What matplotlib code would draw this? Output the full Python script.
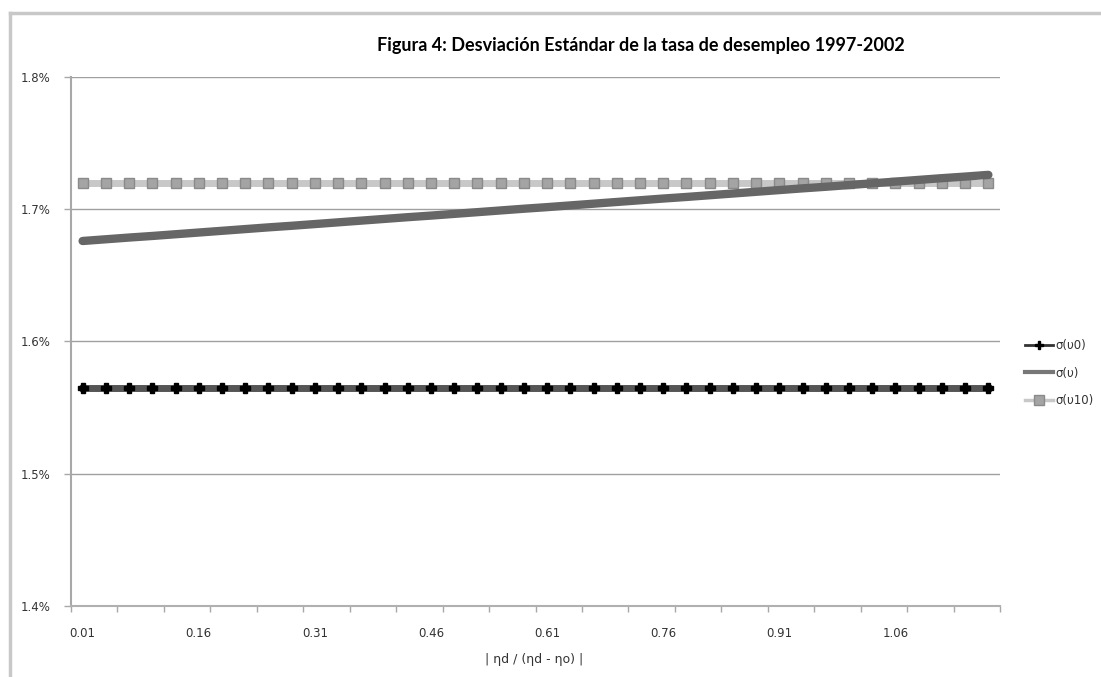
import matplotlib.pyplot as plt
from matplotlib.lines import Line2D
from matplotlib.ticker import FixedLocator, FuncFormatter

# categories on the x axis: |nd / (nd - no)|
x_labels = ['0.01', '0.04', '0.07', '0.10', '0.13', '0.16', '0.19', '0.22', '0.25', '0.28',
            '0.31', '0.34', '0.37', '0.40', '0.43', '0.46', '0.49', '0.52', '0.55', '0.58',
            '0.61', '0.64', '0.67', '0.70', '0.73', '0.76', '0.79', '0.82', '0.85', '0.88',
            '0.91', '0.94', '0.97', '1.00', '1.03', '1.06', '1.09', '1.12', '1.15', '1.18']

# series values in percent
sigma_u0 = [1.565] * 40
sigma_u = [1.6760, 1.6773, 1.6786, 1.6798, 1.6811, 1.6824, 1.6837, 1.6850, 1.6863, 1.6875,
           1.6888, 1.6901, 1.6914, 1.6927, 1.6940, 1.6952, 1.6965, 1.6978, 1.6991, 1.7004,
           1.7016, 1.7029, 1.7042, 1.7055, 1.7068, 1.7081, 1.7093, 1.7106, 1.7119, 1.7132,
           1.7145, 1.7158, 1.7170, 1.7183, 1.7196, 1.7209, 1.7222, 1.7235, 1.7247, 1.7260]
sigma_u10 = [1.720] * 40

title = 'Figura 4: Desviación Estándar de la tasa de desempleo 1997-2002'
xlabel = '| ηd / (ηd - ηo) |'

W, H = 1101, 677
fig = plt.figure(figsize=(W / 100, H / 100), dpi=100)

# outer chart frame (top and left edges visible)
fig.add_artist(Line2D([10 / W, 10 / W], [0, 1 - 13 / H], transform=fig.transFigure,
                      color='#c8c8c8', lw=2.5))
fig.add_artist(Line2D([10 / W, 1], [1 - 13 / H, 1 - 13 / H], transform=fig.transFigure,
                      color='#c8c8c8', lw=2.5))

ax = fig.add_axes([71 / W, 1 - 606 / H, 929 / W, 529 / H])
xs = range(len(x_labels))

ax.plot(xs, sigma_u10, color='#c8c8c8', lw=5, marker='s', markersize=7,
        markerfacecolor='#a4a4a4', markeredgecolor='#8a8a8a', markeredgewidth=1, zorder=3)
ax.plot(xs, sigma_u, color='#666666', lw=6, solid_capstyle='round', zorder=4)
ax.plot(xs, sigma_u0, color='#555555', lw=5, marker='P', markersize=7,
        markerfacecolor='black', markeredgecolor='black', zorder=3)

ax.set_xlim(-0.5, len(x_labels) - 0.5)
ax.set_ylim(1.4, 1.8)

ax.set_yticks([1.4, 1.5, 1.6, 1.7, 1.8])
ax.yaxis.set_major_formatter(FuncFormatter(lambda v, p: f'{v:.1f}%'))
ax.grid(axis='y', color='#a0a0a0', lw=1)
ax.set_axisbelow(True)

ax.set_xticks(list(range(0, len(x_labels), 5)))
ax.set_xticklabels(x_labels[::5])
ax.xaxis.set_minor_locator(FixedLocator([i - 0.5 for i in range(0, len(x_labels) + 1, 2)]))
ax.tick_params(axis='x', which='major', length=0, pad=15, labelsize=8.5, labelcolor='#333333')
ax.tick_params(axis='x', which='minor', length=4, color='#a8a8a8', width=1)
ax.tick_params(axis='y', length=5, color='#a8a8a8', width=1, pad=10,
               labelsize=8.5, labelcolor='#333333')

for side in ['top', 'right']:
    ax.spines[side].set_visible(False)
ax.spines['left'].set_color('#a8a8a8')
ax.spines['left'].set_linewidth(1.5)
ax.spines['bottom'].set_color('#b0b0b0')
ax.spines['bottom'].set_linewidth(1.5)

fig.text(641 / W, 1 - 45 / H, title, ha='center', va='center',
         fontsize=13, fontweight='bold', family='Lato')
fig.text(534 / W, 1 - 660 / H, xlabel, ha='center', va='center',
         fontsize=9, color='#333333')

# legend keys are drawn thinner than the series, as in the original
leg_handles = [
    Line2D([], [], color='#333333', lw=2, marker='P', markersize=6,
           markerfacecolor='black', markeredgecolor='black'),
    Line2D([], [], color='#777777', lw=3),
    Line2D([], [], color='#c8c8c8', lw=2.5, marker='s', markersize=7,
           markerfacecolor='#a4a4a4', markeredgecolor='#8a8a8a'),
]
fig.legend(leg_handles, ['σ(υ0)', 'σ(υ)', 'σ(υ10)'],
           loc='center left', bbox_to_anchor=(1014 / W, 1 - 373 / H),
           frameon=False, fontsize=8.5, handlelength=2.4, handletextpad=0.2,
           labelspacing=1.25, labelcolor='#333333')

fig.savefig('out.png', dpi=100)
